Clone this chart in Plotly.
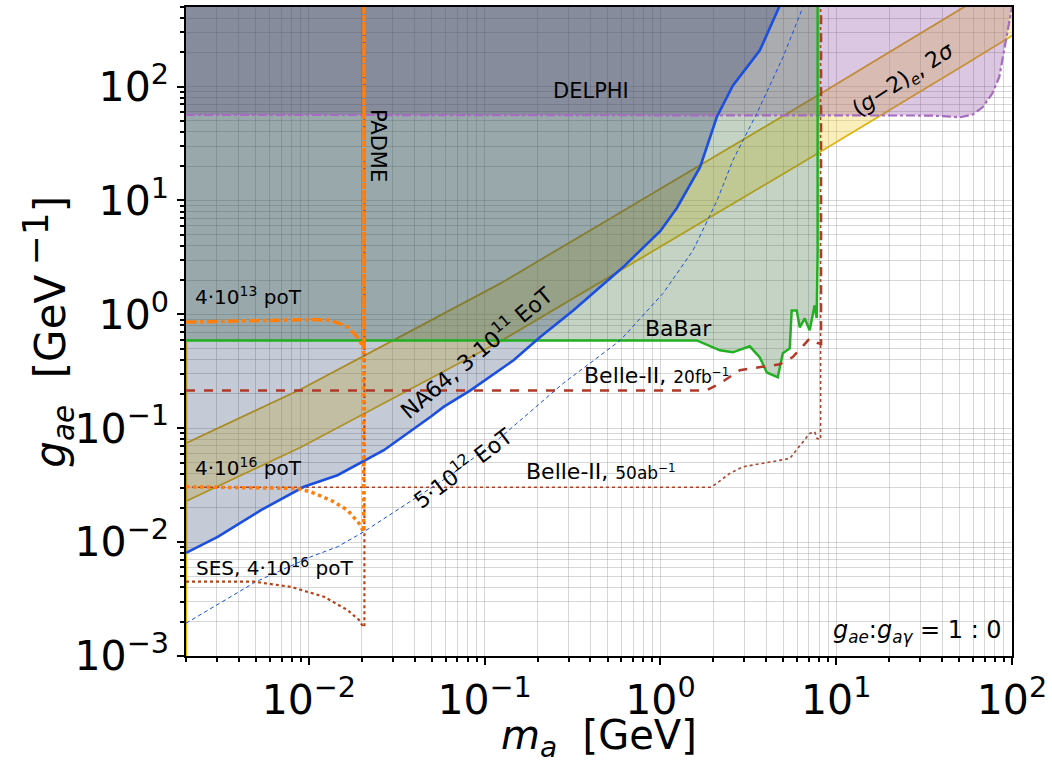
import numpy as np
import plotly.graph_objects as go

# ---------------- data ----------------
delphi_m = [0.002, 35.0, 50.7, 60.0, 68.0, 77.3, 84.6, 94.2, 100.0]
delphi_g = [56.5, 55.7, 53.8, 57.0, 65.8, 87.0, 121.0, 290.0, 500.0]

babar_m = [0.002, 1.61, 2.18, 2.58, 3.22, 3.67, 4.03, 4.65, 4.97, 5.44, 5.58, 5.96, 6.2, 6.62, 7.06, 7.54, 7.74, 7.84, 7.84]
babar_g = [0.59, 0.59, 0.483, 0.464, 0.524, 0.42, 0.309, 0.28, 0.455, 0.502, 1.08, 1.08, 0.77, 0.92, 0.724, 1.2, 0.93, 3.6, 1000.0]

na64_m = [0.002, 0.00303, 0.00534, 0.00937, 0.01455, 0.0205, 0.0267, 0.0493, 0.0584, 0.083, 0.146, 0.207, 0.319, 0.454, 0.614, 0.766, 1.0, 1.24, 1.68, 2.09, 2.58, 3.67, 4.77]
na64_g = [0.00805, 0.0111, 0.0191, 0.0306, 0.0387, 0.0517, 0.0641, 0.126, 0.154, 0.215, 0.395, 0.632, 1.08, 1.74, 2.6, 3.63, 5.4, 8.6, 19.6, 53.8, 102.0, 207.0, 513.0]

na64p_m = [0.002, 0.005, 0.01026, 0.01455, 0.0205, 0.0493, 0.064, 0.118, 0.28, 0.59, 1.035, 1.53, 2.1, 2.58, 3.53, 4.97, 6.45]
na64p_g = [0.00194, 0.00449, 0.00743, 0.0091, 0.0123, 0.0298, 0.0387, 0.0785, 0.248, 0.59, 1.53, 3.63, 10.0, 22.4, 58.0, 180.0, 493.0]

padme13_m = [0.002, 0.01026, 0.0133, 0.0166, 0.0189, 0.0202, 0.0206, 0.0206]
padme13_g = [0.855, 0.90, 0.89, 0.774, 0.632, 0.516, 0.5, 1000.0]

padme16_m = [0.002, 0.00863, 0.01026, 0.0133, 0.0166, 0.0193, 0.0205, 0.0206]
padme16_g = [0.0306, 0.0296, 0.0276, 0.0234, 0.0191, 0.0146, 0.0123, 1000.0]

ses_m = [0.002, 0.00488, 0.0079, 0.0122, 0.0166, 0.0193, 0.0203, 0.0207, 0.0207]
ses_g = [0.00449, 0.00449, 0.00405, 0.00331, 0.00253, 0.00207, 0.00181, 0.0018, 1000.0]

belle20_m = [0.002, 1.83, 2.18, 2.83, 3.22, 4.03, 4.77, 5.66, 7.06, 7.84, 8.2, 8.2]
belle20_g = [0.215, 0.215, 0.247, 0.323, 0.334, 0.35, 0.364, 0.422, 0.612, 0.56, 0.55, 1000.0]

belle50_m = [0.002, 1.95, 2.48, 2.94, 5.44, 7.06, 7.54, 7.78, 8.15, 8.15]
belle50_g = [0.0303, 0.0303, 0.0401, 0.0458, 0.0542, 0.0899, 0.093, 0.0813, 0.08, 1000.0]

gm2_m = [0.002, 0.009, 0.0333, 0.123, 0.454, 3.22, 7.83, 55.0, 100.0]
gm2_up = [0.0738, 0.22, 0.641, 1.87, 6.16, 37.2, 83.4, 514.0, 895.0]
gm2_lo = [0.0229, 0.068, 0.199, 0.58, 1.91, 11.5, 25.8, 159.0, 280.0]

edge_m = [0.002, 0.002]
edge_g = [0.001, 0.58]

x_ticks = [0.01, 0.1, 1, 10, 100]
x_ticktext = ["10<sup>−2</sup>", "10<sup>−1</sup>", "10<sup>0</sup>", "10<sup>1</sup>", "10<sup>2</sup>"]
y_ticks = [1e-3, 1e-2, 1e-1, 1, 10, 100]
y_ticktext = ["10<sup>−3</sup>", "10<sup>−2</sup>", "10<sup>−1</sup>", "10<sup>0</sup>", "10<sup>1</sup>", "10<sup>2</sup>"]

TOP = 1000.0
FONT = "DejaVu Sans"

fig = go.Figure()

def fill_above(mx, gy, color):
    xs = list(mx) + [mx[-1], mx[0]]
    ys = list(gy) + [TOP, TOP]
    fig.add_trace(go.Scatter(x=xs, y=ys, mode="lines", line=dict(width=0),
                             fill="toself", fillcolor=color, hoverinfo="skip", showlegend=False))

def line(mx, gy, color, width, dash="solid"):
    fig.add_trace(go.Scatter(x=mx, y=gy, mode="lines",
                             line=dict(color=color, width=width, dash=dash),
                             hoverinfo="skip", showlegend=False))

# (g-2)_e band first (under the other fills)
fig.add_trace(go.Scatter(x=gm2_m + gm2_m[::-1], y=gm2_up + gm2_lo[::-1], mode="lines",
                         line=dict(width=0), fill="toself", fillcolor="rgba(240,205,40,0.32)",
                         hoverinfo="skip", showlegend=False))
line(gm2_m, gm2_up, "#d8aa10", 1.8)
line(gm2_m, gm2_lo, "#e0b410", 1.8)
line(edge_m, edge_g, "#e8bc00", 2.5)

# exclusion fills
fill_above(delphi_m, delphi_g, "rgba(135,62,160,0.29)")
fill_above(babar_m, babar_g, "rgba(60,110,60,0.30)")
fill_above(na64_m, na64_g, "rgba(30,50,100,0.26)")

# lines
line(delphi_m, delphi_g, "#a66cc0", 2.2, "dashdot")
line(babar_m, babar_g, "#22b022", 2.5)
line(belle20_m, belle20_g, "#b03a2a", 2.5, "dash")
line(belle50_m, belle50_g, "#a8452e", 1.6, "dot")
line(na64p_m, na64p_g, "#1a4fe0", 1.0, "4px,3px")
line(na64_m, na64_g, "#1a4fe0", 2.6)
line(ses_m, ses_g, "#b5451b", 2.2, "dot")
line(padme16_m, padme16_g, "#ff7f0e", 3.5, "dot")
line(padme13_m, padme13_g, "#ff7f0e", 3.5, "dashdot")

L = np.log10
ann = [
    dict(x=L(0.404), y=1.965, text="DELPHI", size=21),
    dict(x=-1.603, y=1.482, text="PADME", size=21, angle=90),
    dict(x=-2.658, y=0.158, text="4·10<sup>13</sup> poT", size=20, xanchor="left"),
    dict(x=-2.658, y=-1.342, text="4·10<sup>16</sup> poT", size=20, xanchor="left"),
    dict(x=-2.652, y=-2.219, text="SES, 4·10<sup>16</sup> poT", size=20, xanchor="left"),
    dict(x=-1.052, y=-0.333, text="NA64, 3·10<sup>11</sup> EoT", size=22, angle=-40),
    dict(x=-1.126, y=-1.342, text="5·10<sup>12</sup> EoT", size=22, angle=-37),
    dict(x=0.103, y=-0.123, text="BaBar", size=22),
    dict(x=-0.025, y=-0.535, text="Belle-II, <span style='font-size:17px'>20fb<sup>−1</sup></span>", size=22),
    dict(x=-0.337, y=-1.383, text="Belle-II, <span style='font-size:17px'>50ab<sup>−1</sup></span>", size=22),
    dict(x=1.388, y=2.053, text="(<i>g</i>−2)<sub><i>e</i></sub>, 2<i>σ</i>", size=22, angle=-33),
    dict(x=1.956, y=-2.781, text="<i>g<sub>ae</sub></i>:<i>g<sub>aγ</sub></i> = 1 : 0", size=24, xanchor="right"),
]
annotations = []
for a in ann:
    annotations.append(dict(x=a["x"], y=a["y"], xref="x", yref="y", text=a["text"], showarrow=False,
                            textangle=a.get("angle", 0), xanchor=a.get("xanchor", "center"), yanchor="middle",
                            font=dict(family=FONT, size=a["size"], color="black")))
annotations.append(dict(x=0.5, y=-0.127, xref="paper", yref="paper", showarrow=False,
                        text="<i>m<sub>a</sub></i>  [GeV]", font=dict(family=FONT, size=40, color="black"),
                        xanchor="center", yanchor="middle"))
annotations.append(dict(x=-0.168, y=0.5, xref="paper", yref="paper", showarrow=False, textangle=-90,
                        text="<i>g<sub>ae</sub></i>  [GeV<sup> <span style='font-size:36px'>−1</span></sup>]",
                        font=dict(family=FONT, size=42, color="black"),
                        xanchor="center", yanchor="middle"))

minor_x = [k * 10.0 ** e for e in range(-3, 3) for k in range(2, 10)]
minor_y = [k * 10.0 ** e for e in range(-3, 3) for k in range(2, 10)]

grid_c = "rgba(150,150,150,0.38)"
axis_common = dict(type="log", showline=True, linecolor="black", linewidth=1.6, mirror=True,
                   ticks="outside", ticklen=7, tickwidth=1.5, tickcolor="black",
                   showgrid=True, gridcolor=grid_c, gridwidth=1.4, zeroline=False,
                   tickfont=dict(family=FONT, size=41, color="black"),
                   minor=dict(tickvals=minor_x, ticks="outside", ticklen=4, tickcolor="black",
                              showgrid=True, gridcolor=grid_c, gridwidth=1.4))

fig.update_layout(
    width=1052, height=762,
    margin=dict(l=186, r=39, t=5, b=106),
    paper_bgcolor="white", plot_bgcolor="white",
    showlegend=False,
    annotations=annotations,
    xaxis=dict(axis_common, range=[L(0.002), 2], tickvals=x_ticks, ticktext=x_ticktext),
    yaxis=dict(axis_common, range=[-3, L(500)], tickvals=y_ticks, ticktext=y_ticktext),
)
fig.update_yaxes(minor=dict(tickvals=minor_y))

fig.write_html("out.html", config={"displayModeBar": False},
               post_script="document.body.style.margin='0px';")
